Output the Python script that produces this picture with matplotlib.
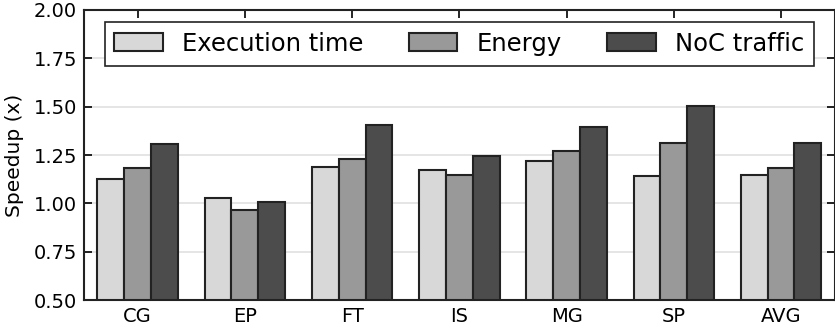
import numpy as np
import matplotlib.pyplot as plt

benchmarks = ["CG", "EP", "FT", "IS", "MG", "SP", "AVG"]
exec_time = [1.125, 1.030, 1.190, 1.170, 1.220, 1.140, 1.147]
energy = [1.182, 0.968, 1.228, 1.144, 1.272, 1.310, 1.184]
noc_traffic = [1.308, 1.008, 1.405, 1.245, 1.396, 1.506, 1.310]

series = [("Execution time", exec_time, "#d8d8d8"),
          ("Energy", energy, "#999999"),
          ("NoC traffic", noc_traffic, "#4c4c4c")]

fig = plt.figure(figsize=(8.35, 3.3), dpi=100)
ax = fig.add_axes([0.1006, 0.0909, 0.899, 0.8788])

x = np.arange(len(benchmarks))
w = 0.25
for i, (name, vals, col) in enumerate(series):
    ax.bar(x + (i - 1) * w, np.array(vals) - 0.5, w, bottom=0.5, color=col,
           edgecolor="#222222", linewidth=1.5, label=name, zorder=3)

ax.set_xlim(-0.5, 6.5)
ax.set_ylim(0.5, 2.0)
ax.set_yticks(np.arange(0.5, 2.01, 0.25))
ax.set_yticklabels(["%.2f" % v for v in np.arange(0.5, 2.01, 0.25)])
ax.set_xticks(x)
ax.set_xticklabels(benchmarks)
ax.yaxis.grid(True, color="#e0e0e0", linewidth=1.2, zorder=0)
ax.set_axisbelow(True)
ax.tick_params(direction="in", top=True, right=True, length=6, width=1.2,
               labelsize=14, pad=5)
for s in ax.spines.values():
    s.set_linewidth(1.5)
    s.set_color("#222222")
ax.set_ylabel("Speedup (x)", fontsize=14.5, labelpad=7)

leg = ax.legend(loc="upper center", ncol=3, fontsize=17.5, fancybox=False,
                framealpha=1, edgecolor="#222222", handlelength=2.0,
                handleheight=0.75, columnspacing=1.85, borderaxespad=0.5,
                borderpad=0.4)
leg.get_frame().set_linewidth(1.2)

fig.savefig("out.png", dpi=100)
